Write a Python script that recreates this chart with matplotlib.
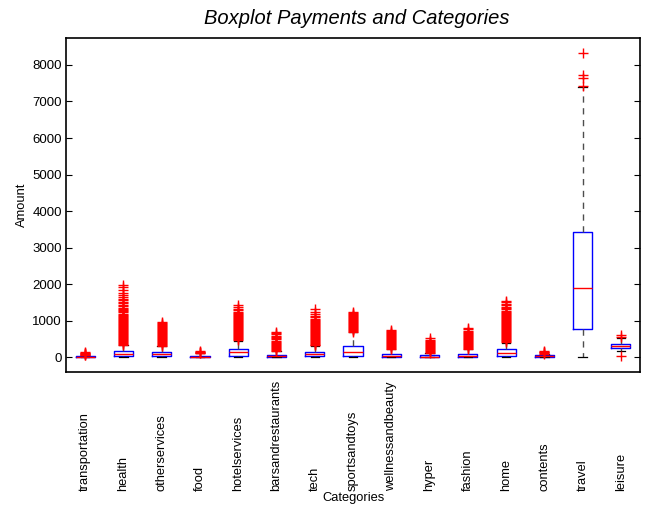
import matplotlib
matplotlib.use("Agg")
import matplotlib.pyplot as plt
from matplotlib.transforms import blended_transform_factory

plt.rcParams['font.family'] = ['Liberation Sans', 'DejaVu Sans']

categories = ['transportation', 'health', 'otherservices', 'food', 'hotelservices',
              'barsandrestaurants', 'tech', 'sportsandtoys', 'wellnessandbeauty',
              'hyper', 'fashion', 'home', 'contents', 'travel', 'leisure']

q1 = [8, 27, 27, 5, 46, 5, 27, 35, 16, 0, 16, 44, 5, 775, 246]
median = [18, 90, 82, 22, 137, 30, 80, 137, 45, 20, 45, 118, 25, 1897, 309]
q3 = [35, 180, 156, 50, 229, 75, 156, 311, 99, 58, 99, 219, 58, 3421, 364]
whisker_low = [0, 0, 0, 0, 0, 0, 0, 0, 0, 0, 0, 0, 0, 0, 180]
whisker_high = [60, 330, 311, 110, 458, 180, 311, 684, 220, 125, 220, 400, 100, 7400, 520]

transportation_out = [62, 78, 90, 104, 118, 131, 152]
health_out = [342, 368, 395, 421, 447, 476, 503, 530, 558, 584, 611, 640, 668, 695, 722,
              750, 778, 806, 833, 861, 889, 917, 944, 972, 1000, 1028, 1057, 1085, 1112,
              1140, 1168, 1196, 1230, 1262, 1295, 1330, 1362, 1398, 1440, 1475, 1520,
              1560, 1610, 1660, 1705, 1770, 1850, 1920, 1985]
otherservices_out = [322, 345, 372, 398, 425, 452, 478, 505, 532, 560, 588, 615, 643, 670,
                     698, 725, 752, 780, 808, 836, 862, 890, 915, 945, 968]
food_out = [115, 128, 142, 158, 175]
hotelservices_out = [470, 497, 525, 552, 580, 607, 635, 662, 690, 717, 745, 772, 800, 827,
                     855, 882, 910, 937, 965, 992, 1020, 1048, 1075, 1102, 1130, 1158,
                     1185, 1215, 1248, 1290, 1335, 1380, 1425]
barsandrestaurants_out = [185, 212, 240, 268, 295, 322, 350, 378, 405, 432, 460, 490, 520,
                          555, 590, 630, 668, 705]
tech_out = [325, 350, 377, 404, 431, 458, 485, 512, 540, 567, 594, 621, 648, 676, 703, 730,
            757, 784, 812, 839, 866, 893, 920, 948, 975, 1002, 1030, 1060, 1098, 1140,
            1190, 1250, 1310]
sportsandtoys_out = [700, 727, 754, 781, 808, 836, 863, 890, 917, 944, 972, 999, 1026, 1053,
                     1080, 1108, 1135, 1162, 1190, 1218, 1248]
wellnessandbeauty_out = [225, 252, 280, 307, 334, 361, 388, 416, 443, 470, 497, 524, 552,
                         579, 606, 633, 660, 690, 720, 752]
hyper_out = [130, 158, 185, 212, 240, 267, 294, 321, 348, 376, 403, 430, 458, 488, 518]
fashion_out = [228, 255, 282, 309, 336, 363, 391, 418, 445, 472, 499, 527, 554, 581, 608,
               636, 665, 700, 735, 770, 805]
home_out = [415, 442, 470, 497, 524, 551, 578, 606, 633, 660, 687, 714, 742, 769, 796, 823,
            850, 878, 905, 932, 959, 986, 1014, 1041, 1068, 1095, 1122, 1150, 1177, 1205,
            1240, 1275, 1315, 1350, 1390, 1430, 1470, 1510, 1555]
contents_out = [105, 122, 140, 160, 182]
travel_out = [7420, 7640, 7720, 8330]
leisure_out = [30, 560, 605]

outliers = [transportation_out, health_out, otherservices_out, food_out, hotelservices_out,
            barsandrestaurants_out, tech_out, sportsandtoys_out, wellnessandbeauty_out,
            hyper_out, fashion_out, home_out, contents_out, travel_out, leisure_out]

yticks = [0, 1000, 2000, 3000, 4000, 5000, 6000, 7000, 8000]

stats = []
for i, c in enumerate(categories):
    stats.append(dict(label=c, q1=q1[i], med=median[i], q3=q3[i],
                      whislo=whisker_low[i], whishi=whisker_high[i],
                      fliers=outliers[i]))

W, H = 650, 508
fig = plt.figure(figsize=(W / 100, H / 100), dpi=100)
ax = fig.add_axes([66 / W, 1 - 372 / H, (640 - 66) / W, (372 - 37.5) / H])

positions = list(range(1, len(categories) + 1))
ax.bxp(stats, positions=positions, widths=0.5, capwidths=0.22, showfliers=True,
       boxprops=dict(color='blue', linewidth=1.0),
       medianprops=dict(color='red', linewidth=1.0),
       whiskerprops=dict(color='0.3', linewidth=1.0, linestyle=(0, (4.5, 4))),
       capprops=dict(color='black', linewidth=0.9),
       flierprops=dict(marker='+', markeredgecolor='red', markerfacecolor='red',
                       markersize=6.5, markeredgewidth=1.0, linestyle='none'))

ax.set_xlim(0.5, len(categories) + 0.5)
ax.set_ylim(-400, 8750)
ax.set_yticks(yticks)
ax.set_yticklabels([str(v) for v in yticks], fontsize=9.5)
ax.set_xticks([])
ax.tick_params(axis='y', direction='in', length=4.5, width=0.8, left=True, right=True,
               labelright=False, pad=3)
for s in ax.spines.values():
    s.set_linewidth(1.2)
    s.set_color('black')

trans = blended_transform_factory(ax.transData, fig.transFigure)
for i, c in enumerate(categories):
    ax.text(positions[i], 1 - 491 / H, c, transform=trans, rotation=90,
            ha='center', va='bottom', fontsize=9.3)

fig.text(357 / W, 1 - 18 / H, 'Boxplot Payments and Categories', ha='center',
         va='center', fontsize=14.5, style='italic')
fig.text(22 / W, 1 - 205 / H, 'Amount', rotation=90, ha='center', va='center',
         fontsize=9.3)
fig.text(353 / W, 1 - 498 / H, 'Categories', ha='center', va='center', fontsize=9.3)

fig.savefig('out.png', dpi=100)
